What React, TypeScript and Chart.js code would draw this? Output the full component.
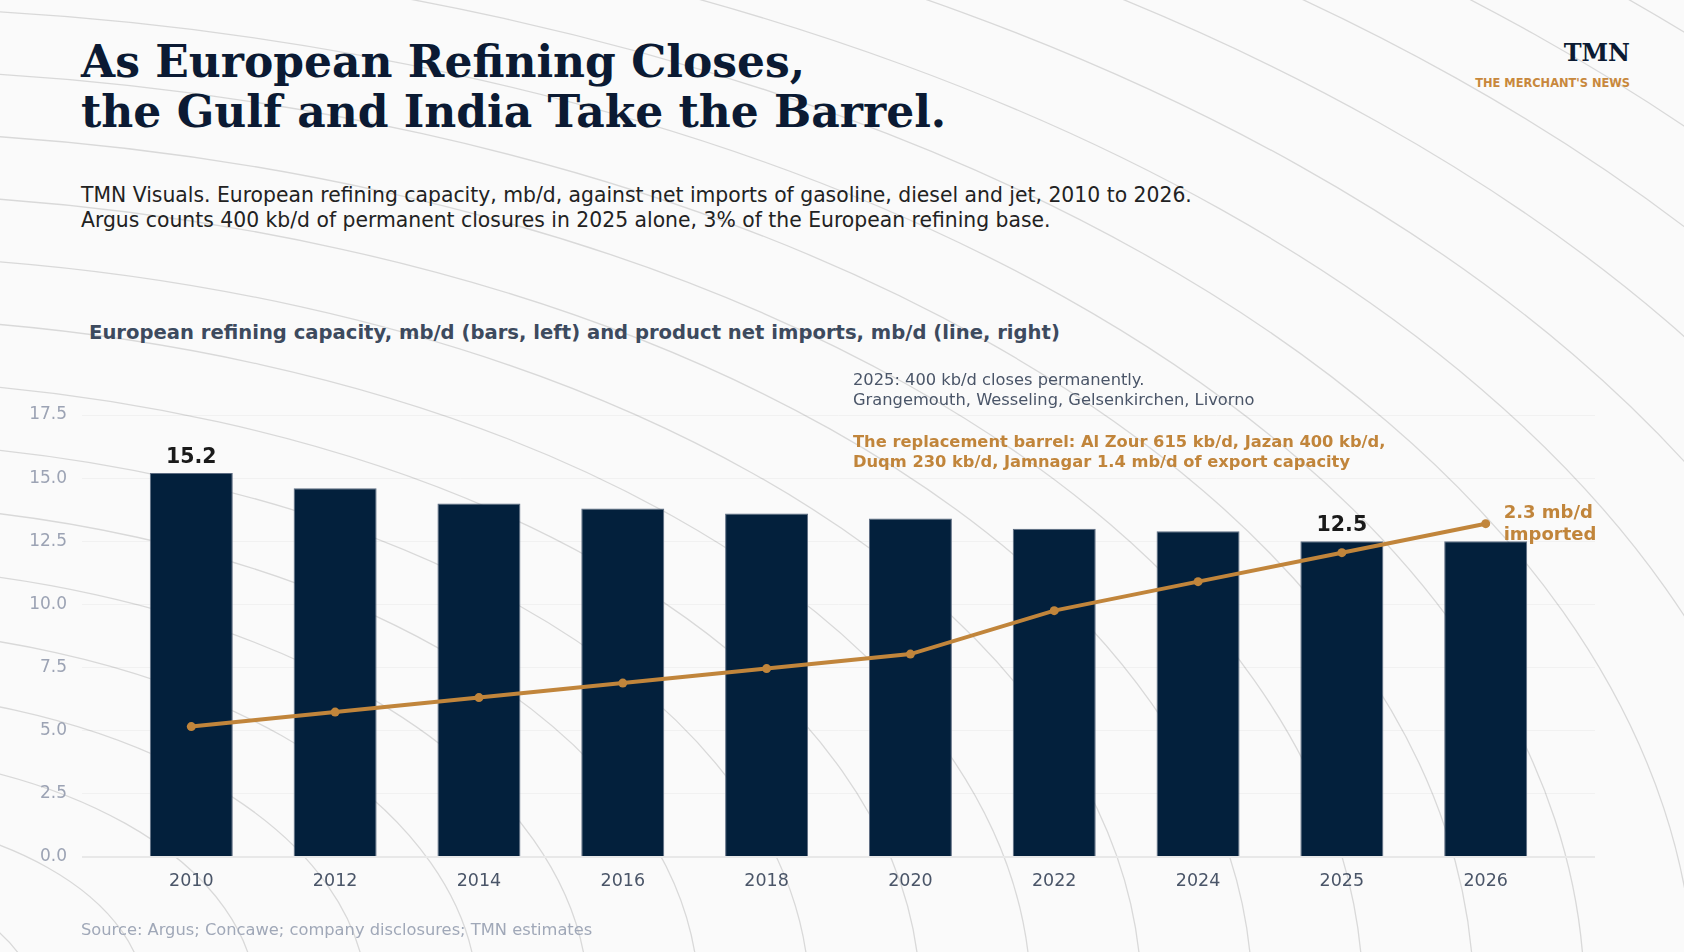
import React, { useEffect, useRef } from 'react';
import { Chart, registerables } from 'chart.js';

Chart.register(...registerables);

// ---- data ----
const years = ['2010', '2012', '2014', '2016', '2018', '2020', '2022', '2024', '2025', '2026'];
const capacity = [15.2, 14.6, 14.0, 13.8, 13.6, 13.4, 13.0, 12.9, 12.5, 12.5];
const netImports = [0.9, 1.0, 1.1, 1.2, 1.3, 1.4, 1.7, 1.9, 2.1, 2.3];
const capacityTicks = [0, 2.5, 5, 7.5, 10, 12.5, 15, 17.5];
const labeledYears = ['2010', '2025'];
const endLabel = ['2.3 mb/d', 'imported'];

const SANS = '"DejaVu Sans", Verdana, sans-serif';
const SERIF = '"DejaVu Serif", Georgia, serif';
const NAVY = '#03203c';
const GOLD = '#c1853b';

const W = 1684;
const H = 952;

const labelsPlugin = {
  id: 'valueLabels',
  afterDatasetsDraw(chart: any) {
    const ctx = chart.ctx;
    const barMeta = chart.getDatasetMeta(1);
    const lineMeta = chart.getDatasetMeta(0);
    ctx.save();
    ctx.font = `bold 20.5px ${SANS}`;
    ctx.fillStyle = '#1a1a1a';
    ctx.textAlign = 'center';
    ctx.textBaseline = 'alphabetic';
    years.forEach((yr, i) => {
      if (!labeledYears.includes(yr)) return;
      const el = barMeta.data[i];
      ctx.fillText(capacity[i].toFixed(1), el.x, el.y - 10);
    });
    const last = lineMeta.data[lineMeta.data.length - 1];
    ctx.font = `bold 18px ${SANS}`;
    ctx.fillStyle = GOLD;
    ctx.textAlign = 'left';
    ctx.fillText(endLabel[0], last.x + 18, last.y - 6);
    ctx.fillText(endLabel[1], last.x + 18, last.y + 16);
    ctx.restore();
  },
};

function Background() {
  const rings = Array.from({ length: 26 }, (_, n) => 63.7 + 62 * n);
  return (
    <svg width={W} height={H} style={{ position: 'absolute', left: 0, top: 0 }}>
      <rect x={0} y={0} width={W} height={H} fill="#fafafa" />
      {rings.map((ry, i) => (
        <ellipse
          key={i}
          cx={-190}
          cy={1000}
          rx={ry / 0.56}
          ry={ry}
          fill="none"
          stroke="#d9d9d9"
          strokeWidth={1.3}
        />
      ))}
    </svg>
  );
}

export default function App() {
  const canvasRef = useRef<HTMLCanvasElement | null>(null);

  useEffect(() => {
    document.body.style.margin = '0';
    document.body.style.background = '#fafafa';
    const canvas = canvasRef.current;
    if (!canvas) return;
    const chart = new Chart(canvas, {
      type: 'bar',
      data: {
        datasets: [
          {
            type: 'line',
            label: 'Product net imports',
            data: netImports.map((v, i) => ({ x: i, y: v })),
            yAxisID: 'y1',
            xAxisID: 'x',
            borderColor: GOLD,
            backgroundColor: GOLD,
            borderWidth: 4,
            pointRadius: 4.5,
            pointBorderWidth: 0,
            pointBackgroundColor: GOLD,
            tension: 0,
            order: 0,
          } as any,
          {
            type: 'bar',
            label: 'European refining capacity',
            data: capacity.map((v, i) => ({ x: i, y: v })),
            yAxisID: 'y',
            xAxisID: 'x',
            backgroundColor: NAVY,
            borderColor: '#5d6c82',
            borderWidth: 1,
            barPercentage: 0.577,
            categoryPercentage: 1,
            order: 1,
          } as any,
        ],
      },
      options: {
        animation: false,
        responsive: false,
        layout: { padding: { left: 0, right: 89, top: 415, bottom: 55 } },
        plugins: {
          legend: { display: false },
          tooltip: { enabled: false },
        },
        scales: {
          x: {
            type: 'linear',
            offset: false,
            min: -0.76,
            max: 9.76,
            afterBuildTicks: (s: any) => {
              s.ticks = years.map((_, i) => ({ value: i }));
            },
            afterFit: (s: any) => {
              s.height = 40;
            },
            grid: { display: false, offset: false },
            border: { display: false },
            ticks: {
              autoSkip: false,
              maxRotation: 0,
              padding: 6,
              color: '#4a5568',
              font: { family: SANS, size: 17.5 },
              callback: (v: any) => years[v] ?? '',
            },
          },
          y: {
            position: 'left',
            min: 0,
            max: 17.5,
            afterBuildTicks: (s: any) => {
              s.ticks = capacityTicks.map((v) => ({ value: v }));
            },
            afterFit: (s: any) => {
              s.width = 82;
            },
            grid: {
              drawTicks: false,
              color: (c: any) => (c.tick && c.tick.value === 0 ? '#e8e8e8' : 'rgba(0,0,0,0.035)'),
              lineWidth: (c: any) => (c.tick && c.tick.value === 0 ? 2 : 1),
            },
            border: { display: false },
            ticks: {
              padding: 15,
              color: '#9ca3b4',
              font: { family: SANS, size: 17 },
              callback: (v: any) => Number(v).toFixed(1),
            },
          },
          y1: {
            display: false,
            position: 'right',
            min: 0,
            max: 3.05,
          },
        },
      },
      plugins: [labelsPlugin],
    });
    return () => chart.destroy();
  }, []);

  const abs = (s: React.CSSProperties): React.CSSProperties => ({ position: 'absolute', margin: 0, whiteSpace: 'nowrap', ...s });

  return (
    <div style={{ position: 'relative', width: W, height: H, overflow: 'hidden', background: '#fafafa' }}>
      <Background />
      <div style={abs({ left: 81, top: 37, fontFamily: SERIF, fontWeight: 700, fontSize: 44, lineHeight: '49.5px', color: '#0b1a33' })}>
        As European Refining Closes,
        <br />
        the Gulf and India Take the Barrel.
      </div>
      <div style={abs({ right: 54, top: 39, fontFamily: SERIF, fontWeight: 700, fontSize: 24, lineHeight: '28px', color: '#0b1a33', textAlign: 'right' })}>
        TMN
      </div>
      <div style={abs({ right: 54, top: 76, fontFamily: SANS, fontWeight: 700, fontSize: 11.4, lineHeight: '14px', color: '#c8883c', textAlign: 'right' })}>
        THE MERCHANT'S NEWS
      </div>
      <div style={abs({ left: 81, top: 182.5, fontFamily: SANS, fontSize: 20.35, lineHeight: '25px', color: '#222222' })}>
        TMN Visuals. European refining capacity, mb/d, against net imports of gasoline, diesel and jet, 2010 to 2026.
        <br />
        Argus counts 400 kb/d of permanent closures in 2025 alone, 3% of the European refining base.
      </div>
      <div style={abs({ left: 89, top: 321, fontFamily: SANS, fontWeight: 700, fontSize: 19.6, lineHeight: '24px', color: '#3d4a5e' })}>
        European refining capacity, mb/d (bars, left) and product net imports, mb/d (line, right)
      </div>
      <canvas ref={canvasRef} width={W} height={H} style={{ position: 'absolute', left: 0, top: 0, width: W, height: H }} />
      <div style={abs({ left: 853, top: 370, fontFamily: SANS, fontSize: 16.3, lineHeight: '20px', color: '#4a5568' })}>
        2025: 400 kb/d closes permanently.
        <br />
        Grangemouth, Wesseling, Gelsenkirchen, Livorno
      </div>
      <div style={abs({ left: 853, top: 432, fontFamily: SANS, fontWeight: 700, fontSize: 16.3, lineHeight: '20px', color: GOLD })}>
        The replacement barrel: Al Zour 615 kb/d, Jazan 400 kb/d,
        <br />
        Duqm 230 kb/d, Jamnagar 1.4 mb/d of export capacity
      </div>
      <div style={abs({ left: 81, top: 920, fontFamily: SANS, fontSize: 16.3, lineHeight: '20px', color: '#a0a8b8' })}>
        Source: Argus; Concawe; company disclosures; TMN estimates
      </div>
    </div>
  );
}
